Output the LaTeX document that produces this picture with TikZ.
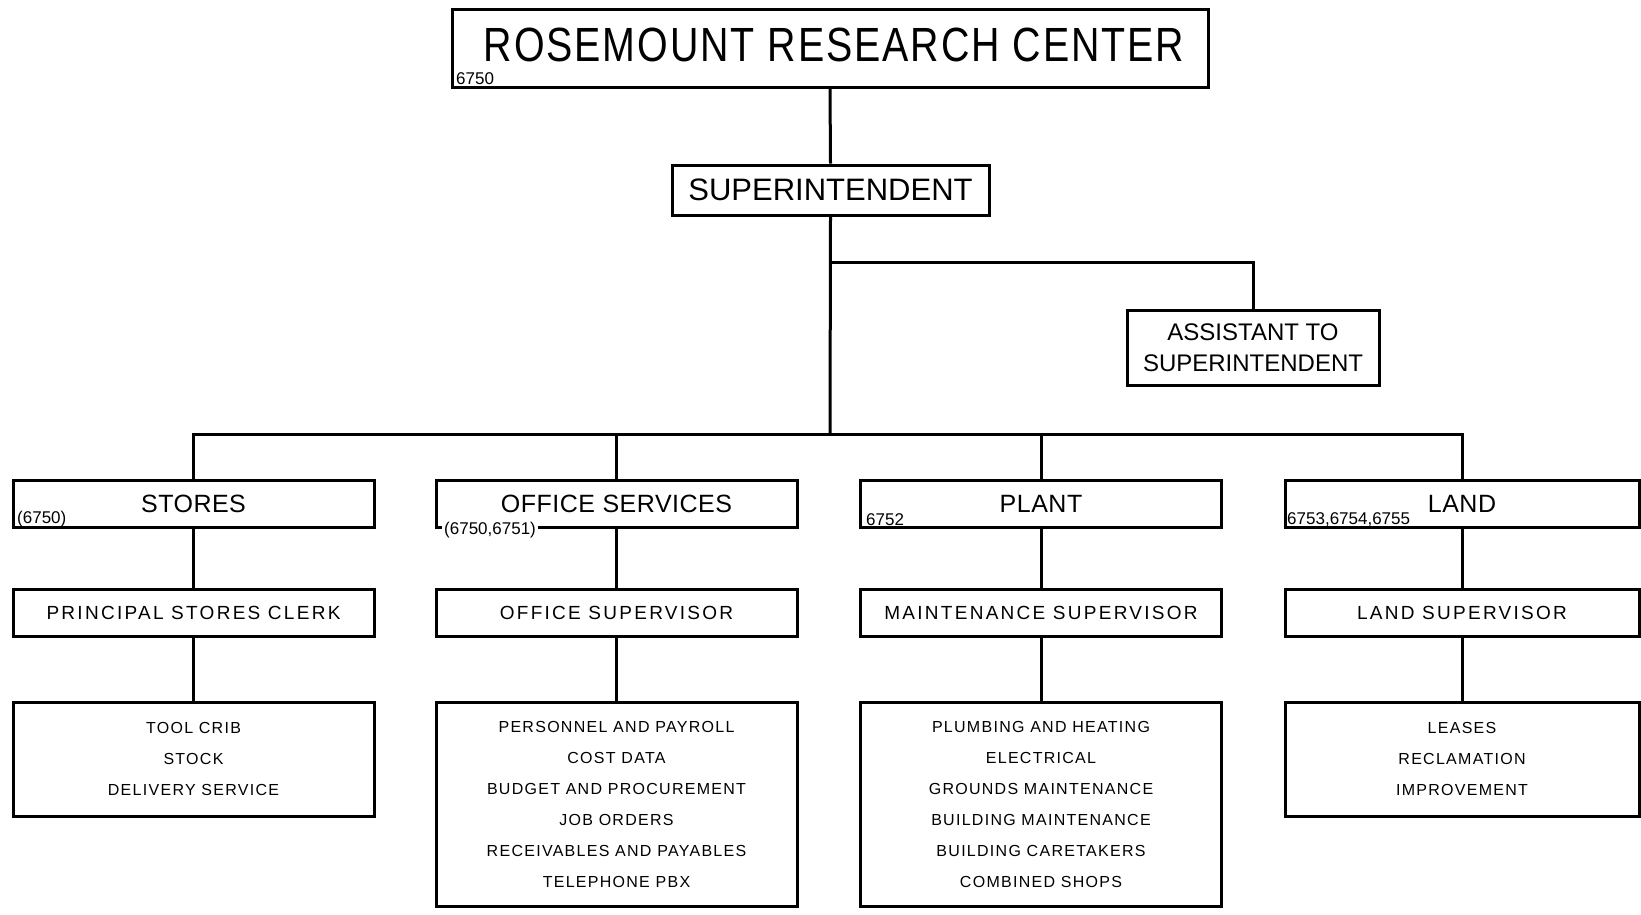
\documentclass[tikz,border=0pt]{standalone}
\usepackage{fontspec}
\setmainfont{Liberation Sans}
\newfontfamily\titlefont{Liberation Sans}[FakeStretch=0.82,LetterSpace=4]
\newfontfamily\fontA{Liberation Sans}[LetterSpace=2]
\newfontfamily\fontB{Liberation Sans}[LetterSpace=12]
\newfontfamily\fontC{Liberation Sans}[LetterSpace=8]
\begin{document}
\begin{tikzpicture}[x=1pt,y=-1pt,
  box/.style={draw, line width=3pt, inner sep=0pt, align=center},
  colbox/.style={box, minimum width=361pt},
  lvlone/.style={colbox, minimum height=47pt, font={\fontA\fontsize{25}{25}\selectfont}},
  lvltwo/.style={colbox, minimum height=47pt, font={\fontB\fontsize{19}{19}\selectfont}},
  lvlthree/.style={colbox, font={\fontC\fontsize{16}{31}\selectfont}},
  code/.style={inner sep=0pt, anchor=base west, font={\fontsize{17}{17}\selectfont}},
  link/.style={line width=3pt}]
\useasboundingbox (0,0) rectangle (1641,914);

% top levels
\node[box, minimum width=756pt, minimum height=78pt] (top) at (830,48) {};
\node[inner sep=0pt, text depth=0pt, font={\titlefont\fontsize{48}{48}\selectfont}] (title) at (834,45) {ROSEMOUNT RESEARCH CENTER};
\node[code] (c0) at (456,84.5) {6750};
\node[box, minimum width=317pt, minimum height=50pt, font={\fontsize{31}{31}\selectfont}] (sup) at (830.5,190) {SUPERINTENDENT};
\node[box, minimum width=252pt, minimum height=75pt, font={\fontsize{24}{31}\selectfont}] (asst) at (1253,347.5) {ASSISTANT TO\\SUPERINTENDENT};

% level 1
\node[lvlone] (stores) at (193.5,503.5) {STORES};
\node[lvlone] (office) at (616.5,503.5) {OFFICE SERVICES};
\node[lvlone] (plant) at (1041,503.5) {PLANT};
\node[lvlone, minimum width=354pt] (land) at (1462,503.5) {LAND};
\node[code] (c1) at (17,523) {(6750)};
\node[code, fill=white, inner xsep=2pt, inner ysep=2pt] (c2) at (442,534) {(6750,6751)};
\node[code] (c3) at (866,525) {6752};
\node[code] (c4) at (1287,524) {6753,6754,6755};

% level 2
\node[lvltwo] (psc) at (193.5,612.5) {PRINCIPAL STORES CLERK};
\node[lvltwo] (osup) at (616.5,612.5) {OFFICE SUPERVISOR};
\node[lvltwo] (msup) at (1041,612.5) {MAINTENANCE SUPERVISOR};
\node[lvltwo, minimum width=354pt] (lsup) at (1462,612.5) {LAND SUPERVISOR};

% level 3
\node[lvlthree, minimum height=114pt] (sf) at (193.5,759) {TOOL CRIB\\STOCK\\DELIVERY SERVICE};
\node[lvlthree, minimum height=204pt] (of) at (616.5,804) {PERSONNEL AND PAYROLL\\COST DATA\\BUDGET AND PROCUREMENT\\JOB ORDERS\\RECEIVABLES AND PAYABLES\\TELEPHONE PBX};
\node[lvlthree, minimum height=204pt] (pf) at (1041,804) {PLUMBING AND HEATING\\ELECTRICAL\\GROUNDS MAINTENANCE\\BUILDING MAINTENANCE\\BUILDING CARETAKERS\\COMBINED SHOPS};
\node[lvlthree, minimum width=354pt, minimum height=114pt] (lf) at (1462,759) {LEASES\\RECLAMATION\\IMPROVEMENT};

% connectors
\coordinate (br) at (830,262);
\coordinate (bus) at (830,434);
\draw[link] (top.south) -- (sup.north);
\draw[link] (sup.south) -- (bus);
\draw[link] (br) -| (asst.north);
\draw[link] (stores.north) |- (bus);
\draw[link] (land.north) |- (bus);
\draw[link] (office.north) -- (office.north |- bus);
\draw[link] (plant.north) -- (plant.north |- bus);
\foreach \a/\b in {stores/psc, office/osup, plant/msup, land/lsup, psc/sf, osup/of, msup/pf, lsup/lf}
  \draw[link] (\a.south) -- (\b.north);
\end{tikzpicture}
\end{document}
